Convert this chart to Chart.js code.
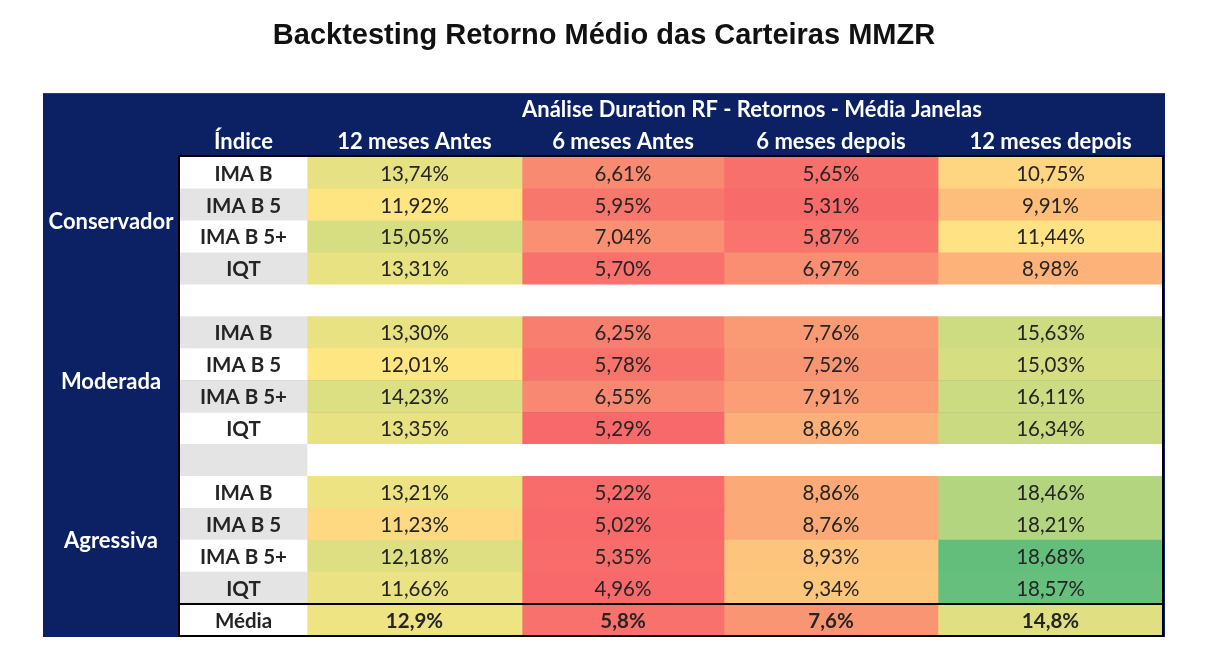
<!DOCTYPE html>
<html>
<head>
<meta charset="utf-8">
<script src="https://cdn.jsdelivr.net/npm/chart.js@4.4.1/dist/chart.umd.min.js"></script>
<style>
  html, body { margin: 0; padding: 0; background: #fff; }
  #wrap { width: 1222px; height: 672px; }
</style>
</head>
<body>
<div id="wrap"><canvas id="chart"></canvas></div>
<script>
// rows of the table (empty strings are the spacer rows between carteiras)
var rowLabels = ['IMA B', 'IMA B 5', 'IMA B 5+', 'IQT', '',
                 'IMA B', 'IMA B 5', 'IMA B 5+', 'IQT', '',
                 'IMA B', 'IMA B 5', 'IMA B 5+', 'IQT', 'Média'];
var groups = ['Conservador', 'Moderada', 'Agressiva'];
var groupRows = [[0, 3], [5, 8], [10, 13]];
var columns = ['12 meses Antes', '6 meses Antes', '6 meses depois', '12 meses depois'];

// retornos (%)
var antes12 = [13.74, 11.92, 15.05, 13.31, null, 13.30, 12.01, 14.23, 13.35, null, 13.21, 11.23, 12.18, 11.66, 12.9];
var antes6 = [6.61, 5.95, 7.04, 5.70, null, 6.25, 5.78, 6.55, 5.29, null, 5.22, 5.02, 5.35, 4.96, 5.8];
var depois6 = [5.65, 5.31, 5.87, 6.97, null, 7.76, 7.52, 7.91, 8.86, null, 8.86, 8.76, 8.93, 9.34, 7.6];
var depois12 = [10.75, 9.91, 11.44, 8.98, null, 15.63, 15.03, 16.11, 16.34, null, 18.46, 18.21, 18.68, 18.57, 14.8];

// cell colours as seen in the sheet (conditional formatting)
var colAntes12 = ['#E6E183', '#FEE582', '#D6DE81', '#E9E283', null, '#E9E283', '#FEE683', '#DCDF82', '#E8E283', null, '#EDE383', '#FED981', '#DEDF82', '#EAE283', '#EFE483'];
var colAntes6 = ['#F98A72', '#F8776D', '#FA9073', '#F8716C', null, '#F87F6F', '#F8736C', '#F98872', '#F8696B', null, '#F86C6B', '#F8696B', '#F86D6C', '#F8696B', '#F8716C'];
var colDepois6 = ['#F8706C', '#F86B6B', '#F8746D', '#FA8E72', null, '#FA9A75', '#FA9574', '#FB9D75', '#FCAF78', null, '#FBAA77', '#FBAA77', '#FDC47D', '#FDC67D', '#FA9574'];
var colDepois12 = ['#FED580', '#FDBD7B', '#FEE283', '#FCB279', null, '#CDDC81', '#D6DE82', '#CBDB81', '#C9DA81', null, '#B3D57F', '#B3D57F', '#63BE7B', '#66BF7C', '#E0E083'];

var values = [antes12, antes6, depois6, depois12];
var colors = [colAntes12, colAntes6, colDepois6, colDepois12];

// layout
var colWidths = [127, 215, 202, 214, 225];
var navy = '#0B2163';
var totalW = colWidths.reduce(function (a, b) { return a + b; }, 0);
var mediaRow = rowLabels.length - 1;

function fmt(v, row) {
  if (v === null) return '';
  return (row === mediaRow ? v.toFixed(1) : v.toFixed(2)).replace('.', ',') + '%';
}

var datasets = [];
datasets.push({
  label: 'Índice',
  data: rowLabels.map(function () { return colWidths[0]; }),
  backgroundColor: rowLabels.map(function (r, i) { return i % 2 === 0 ? '#FFFFFF' : '#E4E4E4'; }),
  texts: rowLabels
});
for (var c = 0; c < columns.length; c++) {
  datasets.push({
    label: columns[c],
    data: rowLabels.map(function () { return colWidths[c + 1]; }),
    backgroundColor: colors[c].map(function (col) { return col || '#FFFFFF'; }),
    texts: values[c].map(fmt)
  });
}

var tablePlugin = {
  id: 'table',
  beforeDraw: function (chart) {
    var ctx = chart.ctx, a = chart.chartArea;
    var h = (a.bottom - a.top) / rowLabels.length;
    ctx.save();
    ctx.fillStyle = navy;
    ctx.fillRect(a.left - 137, a.top - 2 * h, a.right - a.left + 139, a.bottom - a.top + 2 * h + 1);
    // title
    ctx.fillStyle = '#111';
    ctx.font = 'bold 29px "Liberation Sans", Arial, sans-serif';
    ctx.textAlign = 'center';
    ctx.textBaseline = 'middle';
    ctx.fillText('Backtesting Retorno Médio das Carteiras MMZR', a.left - 137 + (a.right - a.left + 139) / 2, 36);
    ctx.restore();
  },
  afterDatasetsDraw: function (chart) {
    var ctx = chart.ctx, a = chart.chartArea;
    var h = (a.bottom - a.top) / rowLabels.length;
    var yScale = chart.scales.y;
    ctx.save();
    ctx.textAlign = 'center';
    ctx.textBaseline = 'middle';
    var centers = [];
    chart.data.datasets.forEach(function (ds, di) {
      var meta = chart.getDatasetMeta(di);
      meta.data.forEach(function (el, i) {
        var p = el.getProps(['x', 'y', 'base'], true);
        var cx = (p.x + p.base) / 2;
        if (i === 0) centers.push({ cx: cx, left: Math.min(p.x, p.base) });
        var bold = di === 0 || i === mediaRow;
        ctx.fillStyle = '#252525';
        ctx.font = (bold ? 'bold ' : '') + '20.5px Lato, sans-serif';
        ctx.fillText(ds.texts[i], cx, p.y + 1);
      });
    });
    // header rows
    ctx.fillStyle = '#FFFFFF';
    ctx.font = 'bold 22px Lato, sans-serif';
    chart.data.datasets.forEach(function (ds, di) {
      ctx.fillText(ds.label, centers[di].cx, a.top - h / 2 + 1);
    });
    ctx.textAlign = 'left';
    ctx.fillText('Análise Duration RF - Retornos - Média Janelas', centers[2].left, a.top - 1.5 * h + 1);
    // carteira labels
    ctx.textAlign = 'center';
    groups.forEach(function (g, gi) {
      var y = (yScale.getPixelForValue(groupRows[gi][0]) + yScale.getPixelForValue(groupRows[gi][1])) / 2;
      ctx.fillText(g, a.left - 69, y + 1);
    });
    // frame
    ctx.strokeStyle = '#000';
    ctx.lineWidth = 2;
    ctx.strokeRect(a.left - 1, a.top - 1, a.right - a.left + 1, a.bottom - a.top + 1);
    var ym = (yScale.getPixelForValue(mediaRow - 1) + yScale.getPixelForValue(mediaRow)) / 2;
    ctx.beginPath();
    ctx.moveTo(a.left - 1, ym);
    ctx.lineTo(a.right, ym);
    ctx.stroke();
    ctx.restore();
  }
};

var ctx = document.getElementById('chart').getContext('2d');
var myChart = new Chart(ctx, {
  type: 'bar',
  data: { labels: rowLabels, datasets: datasets },
  options: {
    indexAxis: 'y',
    responsive: true,
    maintainAspectRatio: false,
    animation: false,
    layout: { padding: { left: 180, right: 59, top: 157, bottom: 36 } },
    datasets: { bar: { barPercentage: 1, categoryPercentage: 1, borderWidth: 0 } },
    scales: {
      x: { stacked: true, display: false, min: 0, max: totalW },
      y: { stacked: true, display: false }
    },
    plugins: { legend: { display: false }, tooltip: { enabled: false }, title: { display: false } }
  },
  plugins: [tablePlugin]
});
</script>
</body>
</html>
